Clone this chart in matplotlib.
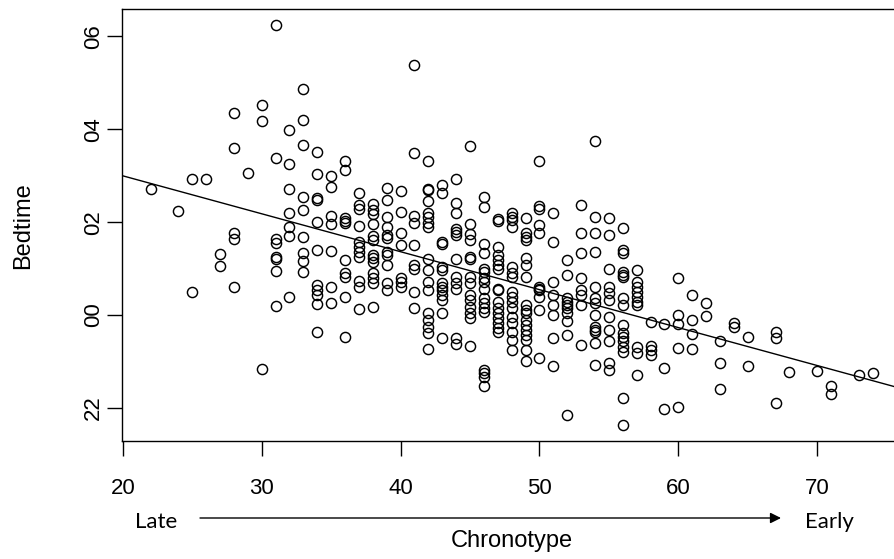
import numpy as np
import matplotlib
matplotlib.use("Agg")
import matplotlib.pyplot as plt

plt.rcParams['font.family'] = ['Liberation Sans', 'DejaVu Sans']

# chronotype score (integer) and the bedtimes seen at that score, hours from midnight
chronotype = [22, 24, 25, 26, 27, 28, 29, 30, 31, 32, 33, 34, 35, 36, 37, 38, 39,
              40, 41, 42, 43, 44, 45, 46, 47, 48, 49, 50, 51, 52, 53, 54, 55, 56,
              57, 58, 59, 60, 61, 62, 63, 64, 65, 67, 68, 70, 71, 73, 74]
bedtime = [
    [2.71],
    [2.25],
    [2.92, 0.49],
    [2.92],
    [1.31, 1.06],
    [4.34, 3.59, 1.76, 1.63, 0.6],
    [3.05],
    [4.52, 4.18, -1.16],
    [6.24, 3.38, 1.63, 1.54, 1.25, 1.2, 0.95, 0.19],
    [3.99, 3.25, 2.72, 2.2, 1.89, 1.71, 0.39],
    [4.86, 4.19, 3.66, 2.54, 2.26, 1.68, 1.33, 1.17, 0.93],
    [3.5, 3.03, 2.52, 2.47, 2.0, 1.4, 0.65, 0.54, 0.43, 0.24, -0.37],
    [3.0, 2.76, 2.14, 1.97, 1.38, 0.6, 0.26],
    [3.31, 3.13, 2.08, 2.03, 1.98, 1.18, 0.9, 0.82, 0.38, -0.48],
    [2.62, 2.37, 2.29, 1.91, 1.58, 1.46, 1.36, 1.25, 0.74, 0.61, 0.12],
    [2.38, 2.27, 2.17, 1.96, 1.7, 1.61, 1.29, 1.22, 1.15, 0.9, 0.79, 0.68, 0.17],
    [2.74, 2.47, 2.1, 1.89, 1.72, 1.65, 1.36, 1.29, 1.08, 0.68, 0.54],
    [2.67, 2.21, 1.76, 1.51, 0.79, 0.72, 0.61],
    [5.39, 3.48, 2.14, 1.98, 1.51, 1.08, 0.98, 0.5, 0.14],
    [3.31, 2.72, 2.69, 2.45, 2.2, 2.1, 1.98, 1.89, 1.2, 0.97, 0.72, 0.54, 0.04,
     -0.11, -0.25, -0.39, -0.74],
    [2.8, 2.63, 1.58, 1.53, 1.04, 0.97, 0.68, 0.61, 0.54, 0.43, 0.32, 0.05, -0.5],
    [2.92, 2.42, 2.19, 1.86, 1.79, 1.72, 1.2, 0.82, 0.68, 0.57, -0.5, -0.62],
    [3.64, 1.96, 1.74, 1.61, 1.25, 1.2, 0.82, 0.68, 0.43, 0.32, 0.18, 0.04, -0.07, -0.66],
    [2.54, 2.32, 1.53, 1.33, 1.0, 0.93, 0.79, 0.72, 0.57, 0.36, 0.25, 0.14, 0.07,
     -1.18, -1.25, -1.33, -1.52],
    [2.06, 2.03, 1.47, 1.29, 1.18, 1.08, 1.0, 0.57, 0.54, 0.29, 0.14, 0.04, -0.07,
     -0.18, -0.29, -0.36],
    [2.19, 2.11, 2.04, 1.89, 1.04, 0.9, 0.82, 0.5, 0.39, 0.29, 0.14, -0.04, -0.18,
     -0.36, -0.54, -0.75],
    [2.08, 1.76, 1.69, 1.61, 1.22, 1.08, 0.82, 0.22, 0.11, 0.04, -0.11, -0.22, -0.32,
     -0.43, -0.54, -0.75, -0.99],
    [3.32, 2.34, 2.29, 1.94, 1.76, 0.61, 0.57, 0.54, 0.39, 0.11, -0.93],
    [2.19, 1.58, 0.72, 0.43, 0.22, 0.0, -0.5, -1.1],
    [1.18, 0.86, 0.36, 0.29, 0.22, 0.14, 0.04, -0.14, -0.43, -2.15],
    [2.37, 1.76, 1.33, 0.79, 0.54, 0.43, 0.22, -0.65],
    [3.75, 2.11, 1.76, 1.36, 0.61, 0.36, 0.25, 0.0, -0.25, -0.32, -0.36, -0.61, -1.08],
    [2.09, 1.72, 1.0, 0.61, 0.47, 0.32, -0.04, -0.32, -0.57, -1.04, -1.18],
    [1.88, 1.4, 1.34, 0.93, 0.86, 0.82, 0.36, 0.22, -0.22, -0.39, -0.47, -0.57, -0.68,
     -0.79, -1.79, -2.37],
    [0.97, 0.72, 0.61, 0.5, 0.39, 0.29, 0.22, -0.68, -0.82, -1.29],
    [-0.16, -0.67, -0.75, -0.86],
    [-0.19, -1.15, -2.03],
    [0.79, 0.0, -0.19, -0.72, -1.99],
    [0.43, -0.11, -0.41, -0.74],
    [0.25, -0.02],
    [-0.57, -1.03, -1.6],
    [-0.18, -0.26],
    [-0.48, -1.1],
    [-0.36, -0.5, -1.9],
    [-1.22],
    [-1.2],
    [-1.54, -1.7],
    [-1.29],
    [-1.24],
]

x_ticks = [20, 30, 40, 50, 60, 70]
y_ticks = [6, 4, 2, 0, -2]
y_tick_labels = ['06', '04', '02', '00', '22']

x = np.concatenate([[c] * len(b) for c, b in zip(chronotype, bedtime)]).astype(float)
y = np.concatenate(bedtime)

fig = plt.figure(figsize=(8.94, 5.59), dpi=100)
W, H = 894, 559
ax = fig.add_axes([121.7 / W, 118 / H, 780 / W, 431.7 / H])

ax.plot(x, y, 'o', ms=7.3, mfc='none', mec='black', mew=1.05)

# least squares line, like abline(lm(...)) in R
slope, intercept = np.polyfit(x, y, 1)
xl = np.array([19.0, 77.0])
ax.plot(xl, intercept + slope * xl, color='black', lw=1.0)

xr = x.max() - x.min()
yr = y.max() - y.min()
ax.set_xlim(x.min() - 0.04 * xr, x.max() + 0.04 * xr)
ax.set_ylim(y.min() - 0.04 * yr, y.max() + 0.04 * yr)

ax.set_xticks(x_ticks)
ax.set_xticklabels([str(t) for t in x_ticks])
ax.set_yticks(y_ticks)
ax.set_yticklabels(y_tick_labels, rotation=90, va='center')
ax.tick_params(axis='x', direction='out', length=10.5, width=1.0, pad=16, labelsize=16)
ax.tick_params(axis='y', direction='out', length=10.5, width=1.0, pad=2, labelsize=16)
for s in ax.spines.values():
    s.set_linewidth(1.0)

ax.set_ylabel('Bedtime', fontsize=17, va='center')
ax.yaxis.set_label_coords(-0.127, 0.5)
ax.set_xlabel('Chronotype', fontsize=17, va='center')
ax.xaxis.set_label_coords(0.5, (441 - 541) / 431.7)

fig.text(156 / W, 1 - 521.7 / H, 'Late', fontsize=16, family='Lato', ha='center', va='center')
fig.text(829 / W, 1 - 521.7 / H, 'Early', fontsize=16, family='Lato', ha='center', va='center')
ax.annotate('', xy=(781 / W, 1 - 518 / H), xytext=(200 / W, 1 - 518 / H),
            xycoords='figure fraction', textcoords='figure fraction',
            arrowprops=dict(arrowstyle='-|>', color='black', lw=1.0,
                            mutation_scale=16, shrinkA=0, shrinkB=0))

fig.savefig('out.png', dpi=100)
